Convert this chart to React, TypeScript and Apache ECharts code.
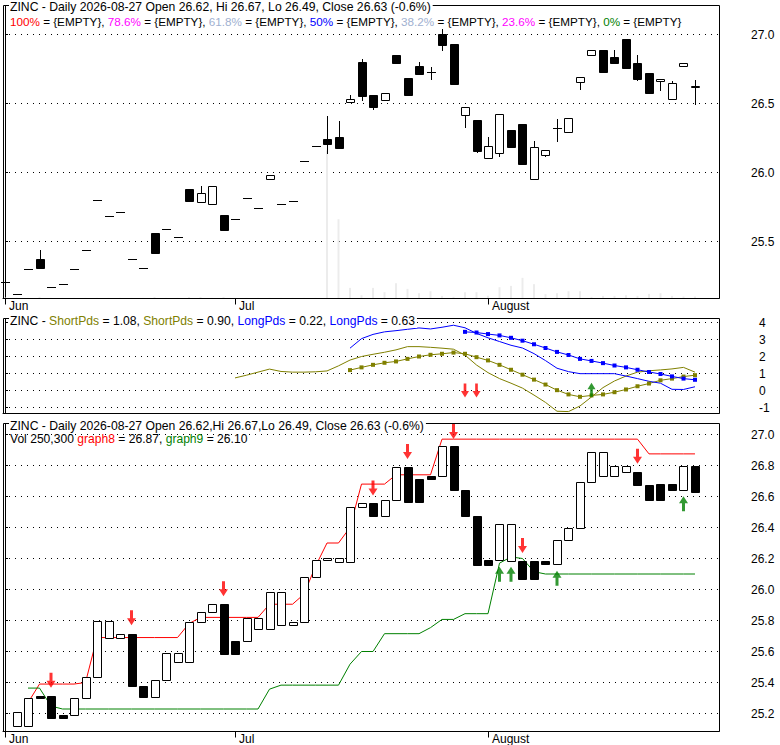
import React, { useEffect, useRef } from 'react';
import * as echarts from 'echarts';

// ---------- data (bar index 0..60) ----------
const opens = [25.21, 25.12, 25.30, 25.37, 25.17, 25.19, 25.30, 25.435, 25.80, 25.685, 25.715, 25.375, 25.305, 25.56, 25.59, 25.535, 25.88, 25.785, 25.775, 25.695, 25.665, 25.815, 25.745, 25.95, 25.77, 25.79, 26.08, 26.19, 26.24, 26.26, 26.51, 26.80, 26.565, 26.525, 26.855, 26.685, 26.77, 26.73, 27.005, 26.93, 26.42, 26.38, 26.105, 26.14, 26.305, 26.35, 25.955, 26.13, 26.32, 26.29, 26.655, 26.855, 26.89, 26.84, 26.97, 26.79, 26.72, 26.66, 26.535, 26.775, 26.62];
const highs = [25.21, 25.12, 25.30, 25.44, 25.17, 25.19, 25.30, 25.435, 25.80, 25.685, 25.715, 25.375, 25.305, 25.56, 25.59, 25.535, 25.88, 25.90, 25.905, 25.695, 25.665, 25.815, 25.745, 25.985, 25.77, 25.79, 26.08, 26.19, 26.41, 26.37, 26.56, 26.82, 26.565, 26.575, 26.855, 26.685, 26.80, 26.765, 27.04, 26.93, 26.475, 26.38, 26.26, 26.425, 26.305, 26.35, 26.23, 26.165, 26.39, 26.395, 26.695, 26.89, 26.89, 26.885, 26.97, 26.85, 26.72, 26.68, 26.66, 26.795, 26.67];
const lows = [25.21, 25.12, 25.30, 25.31, 25.17, 25.19, 25.30, 25.435, 25.80, 25.685, 25.715, 25.375, 25.305, 25.415, 25.59, 25.535, 25.79, 25.785, 25.775, 25.585, 25.665, 25.815, 25.745, 25.95, 25.77, 25.79, 26.08, 26.19, 26.135, 26.17, 26.51, 26.515, 26.45, 26.515, 26.79, 26.565, 26.715, 26.67, 26.88, 26.64, 26.32, 26.14, 26.105, 26.11, 26.185, 26.065, 25.955, 26.11, 26.22, 26.29, 26.60, 26.855, 26.73, 26.795, 26.76, 26.665, 26.575, 26.59, 26.535, 26.775, 26.49];
const closes = [25.21, 25.12, 25.30, 25.31, 25.17, 25.19, 25.30, 25.435, 25.80, 25.685, 25.715, 25.375, 25.305, 25.415, 25.59, 25.535, 25.79, 25.855, 25.905, 25.585, 25.665, 25.815, 25.745, 25.985, 25.77, 25.79, 26.08, 26.19, 26.205, 26.18, 26.53, 26.555, 26.475, 26.575, 26.79, 26.565, 26.715, 26.73, 26.925, 26.64, 26.475, 26.155, 26.19, 26.425, 26.185, 26.065, 26.185, 26.165, 26.32, 26.395, 26.695, 26.89, 26.73, 26.795, 26.76, 26.675, 26.575, 26.68, 26.645, 26.795, 26.63];
// volume in thousands of shares
const volumes = [120, 80, 80, 200, 80, 80, 80, 80, 80, 80, 80, 80, 80, 180, 80, 80, 180, 180, 80, 180, 80, 80, 80, 80, 80, 80, 80, 80, 18500, 9900, 1330, 410, 1330, 790, 1910, 1200, 660, 910, 330, 200, 790, 790, 330, 1410, 1580, 2580, 1790, 540, 660, 910, 910, 200, 330, 330, 410, 330, 580, 660, 330, 250, 250];
// lower panel box colour (1 = hollow/up, 0 = filled), index 0 unused
const boxUp = [null, 1, 1, 0, 0, 0, 1, 1, 1, 1, 1, 0, 0, 1, 1, 1, 1, 1, 1, 0, 0, 1, 1, 1, 1, 1, 1, 1, 1, 1, 1, 1, 0, 1, 1, 0, 0, 0, 1, 0, 0, 0, 0, 1, 1, 0, 0, 0, 1, 1, 1, 1, 1, 1, 1, 0, 0, 0, 0, 1, 0];

const monthTicks = [0, 20, 42];
const monthNames = ['Jun', 'Jul', 'August'];
const topTicks = [25.5, 26.0, 26.5, 27.0];
const midTicks = [-1, 0, 1, 2, 3, 4];
const botTicks = [25.2, 25.4, 25.6, 25.8, 26.0, 26.2, 26.4, 26.6, 26.8, 27.0];

const shortFastStart = 20;
const shortFast = [0.74, 0.90, 1.08, 1.26, 1.12, 1.08, 1.08, 1.10, 1.15, 1.45, 1.79, 2.00, 2.13, 2.25, 2.39, 2.58, 2.58, 2.54, 2.49, 2.43, 2.08, 1.50, 1.05, 0.70, 0.43, 0.14, -0.27, -0.70, -1.22, -1.24, -0.91, -0.38, 0.17, 0.56, 0.85, 1.08, 1.16, 1.21, 1.27, 1.36, 1.08];
const shortSlowStart = 30;
const shortSlow = [1.20, 1.36, 1.51, 1.63, 1.71, 1.86, 2.00, 2.10, 2.16, 2.23, 2.16, 1.96, 1.77, 1.51, 1.22, 0.93, 0.64, 0.35, 0.02, -0.23, -0.37, -0.29, -0.23, -0.10, 0.06, 0.25, 0.41, 0.60, 0.70, 0.82, 0.90];
const longFastStart = 30;
const longFast = [2.49, 3.05, 3.30, 3.45, 3.52, 3.60, 3.68, 3.62, 3.72, 3.84, 3.69, 3.36, 3.10, 2.88, 2.66, 2.50, 2.17, 1.76, 1.31, 1.11, 0.99, 0.99, 0.99, 0.99, 0.85, 0.70, 0.54, 0.43, 0.07, 0.06, 0.22];
const longSlowStart = 40;
const longSlow = [3.45, 3.41, 3.32, 3.24, 3.10, 2.93, 2.72, 2.50, 2.27, 2.09, 1.86, 1.74, 1.61, 1.47, 1.36, 1.22, 1.09, 0.97, 0.83, 0.70, 0.63];

const graph8Start = 2;
const graph8 = [25.27, 25.39, 25.39, 25.39, 25.39, 25.40, 25.69, 25.69, 25.69, 25.69, 25.69, 25.69, 25.69, 25.69, 25.78, 25.82, 25.82, 25.82, 25.82, 25.82, 25.82, 25.905, 25.905, 25.905, 25.97, 26.15, 26.30, 26.30, 26.40, 26.68, 26.68, 26.68, 26.74, 26.74, 26.74, 26.74, 26.97, 26.97, 26.97, 26.97, 26.97, 26.97, 26.97, 26.97, 26.97, 26.97, 26.97, 26.97, 26.97, 26.97, 26.97, 26.97, 26.97, 26.97, 26.875, 26.875, 26.875, 26.875, 26.875];
const graph9Start = 2;
const graph9 = [25.364, 25.364, 25.248, 25.229, 25.229, 25.229, 25.229, 25.229, 25.229, 25.229, 25.229, 25.229, 25.229, 25.229, 25.229, 25.229, 25.229, 25.229, 25.229, 25.229, 25.229, 25.357, 25.383, 25.383, 25.383, 25.383, 25.383, 25.383, 25.518, 25.60, 25.60, 25.715, 25.715, 25.715, 25.715, 25.754, 25.807, 25.807, 25.844, 25.844, 25.844, 26.17, 26.21, 26.20, 26.115, 26.10, 26.10, 26.10, 26.10, 26.10, 26.10, 26.10, 26.10, 26.10, 26.10, 26.10, 26.10, 26.10, 26.10];

const midSell = [[40, 0.0], [41, 0.0]];
const midBuy = [[51, 0.05]];
const botSell = [[4, 25.415], [11, 25.818], [19, 26.005], [32, 26.655], [35, 26.891], [39, 27.02], [45, 26.284], [55, 26.859]];
const botBuy = [[43, 26.098], [44, 26.098], [48, 26.073], [59, 26.554]];

// ---------- layout / style ----------
const FAMILY = '"Liberation Sans", Arial, sans-serif';
const font = (px: number) => `${px}px "Liberation Sans", Arial, sans-serif`;
const X_MIN = -0.174;
const X_MAX = 62.087;
const DOWN_ARROW = 'path://M3,0 L6,0 L6,8 L9,8 L4.5,15 L0,8 L3,8 Z';
const UP_ARROW = 'path://M4.5,0 L9,7 L6,7 L6,15 L3,15 L3,7 L0,7 Z';
const DOTS = { color: '#000', width: 1, type: [1, 5] as number[], cap: 'butt', opacity: 1 };
const PANELS = [
  { top: 5.5, height: 293 },
  { top: 318.5, height: 95 },
  { top: 423.5, height: 308 },
];
// value ranges chosen so that every grid line falls on a half pixel
const TOP_RANGE = [25.5 - 57 / 138, 27.0 + 29 / 138];
const MID_RANGE = [4 + 4 / 17 - 95 / 17, 4 + 4 / 17];
const BOT_RANGE = [27.0 + 11 / 155 - 308 / 155, 27.0 + 11 / 155];

const toPts = (start: number, arr: number[]) => arr.map((v, k) => [start + k, v]);

function candleItem(params: any, api: any) {
  const i = api.value(0);
  const o = api.value(1), c = api.value(2), l = api.value(3), h = api.value(4);
  const pO = api.coord([i, o]);
  const pC = api.coord([i, c]);
  const pL = api.coord([i, l]);
  const pH = api.coord([i, h]);
  const cx = Math.round(pO[0]) + 0.5;
  const yTop = Math.round(Math.min(pO[1], pC[1])) + 0.5;
  const yBot = Math.round(Math.max(pO[1], pC[1])) + 0.5;
  const children: any[] = [];
  if (Math.abs(pH[1] - pL[1]) > 0.8) {
    children.push({ type: 'line', shape: { x1: cx, y1: Math.round(pH[1]), x2: cx, y2: Math.round(pL[1]) }, style: { stroke: '#000', lineWidth: 1 } });
  }
  if (yBot - yTop < 1) {
    children.push({ type: 'line', shape: { x1: cx - 4.5, y1: yTop, x2: cx + 4.5, y2: yTop }, style: { stroke: '#000', lineWidth: 1 } });
  } else {
    children.push({ type: 'rect', shape: { x: cx - 4, y: yTop, width: 8, height: yBot - yTop }, style: { fill: c >= o ? '#fff' : '#000', stroke: '#000', lineWidth: 1 } });
  }
  return { type: 'group', children };
}

function boxItem(params: any, api: any) {
  const i = api.value(0);
  const a = api.value(1), b = api.value(2), up = api.value(3);
  const pA = api.coord([i, a]);
  const pB = api.coord([i, b]);
  const cx = Math.round(pA[0]) + 0.5;
  const yTop = Math.round(Math.min(pA[1], pB[1])) + 0.5;
  let yBot = Math.round(Math.max(pA[1], pB[1])) + 0.5;
  if (yBot - yTop < 1) yBot = yTop + 1;
  return {
    type: 'rect',
    shape: { x: cx - 4, y: yTop, width: 8, height: yBot - yTop },
    style: { fill: up ? '#fff' : '#000', stroke: '#000', lineWidth: 1 },
  };
}

function xAxisFor(grid: number, labels: boolean) {
  return {
    type: 'value', gridIndex: grid, min: X_MIN, max: X_MAX, position: 'bottom',
    axisLine: { show: true, onZero: false, lineStyle: { color: '#000', width: 1 } },
    axisTick: labels
      ? { show: true, customValues: monthTicks, length: 6, inside: false, lineStyle: { color: '#000' } }
      : { show: false },
    axisLabel: labels
      ? {
          show: true, customValues: monthTicks, margin: 1, align: 'left', verticalAlign: 'top',
          padding: [0, 0, 0, 4], color: '#000', fontSize: 12, fontFamily: FAMILY,
          formatter: (v: number) => {
            const k = monthTicks.findIndex((t) => Math.abs(t - v) < 0.01);
            return k >= 0 ? monthNames[k] : '';
          },
        }
      : { show: false },
    splitLine: { show: false },
  };
}

function yAxisFor(grid: number, range: number[], ticks: number[], margin: number, digits: number) {
  return {
    type: 'value', gridIndex: grid, position: 'right', min: range[0], max: range[1],
    axisLine: { show: true, lineStyle: { color: '#000', width: 1 } },
    axisTick: { show: true, customValues: ticks, length: 3, inside: false, lineStyle: { color: '#000' } },
    axisLabel: {
      show: true, customValues: ticks, margin, color: '#000', fontSize: 12, fontFamily: FAMILY,
      formatter: (v: number) => v.toFixed(digits),
    },
    splitLine: { show: true, lineStyle: DOTS },
  };
}

const gridBase = { show: false, left: 3, width: 716, containLabel: false, outerBoundsMode: 'none' };

function textEl(x: number, y: number, text: string, px: number, bg: boolean, rich?: any) {
  const style: any = {
    text, font: font(px), fill: '#000', align: 'left', verticalAlign: 'middle',
    textAlign: 'left', textVerticalAlign: 'middle',
  };
  if (bg) {
    style.backgroundColor = '#fff';
    style.padding = [1, 2, 1, 1];
  }
  if (rich) {
    const r: any = {};
    Object.keys(rich).forEach((k) => { r[k] = { fill: rich[k], font: font(px) }; });
    style.rich = r;
  }
  return { type: 'text', x, y, z: 100, silent: true, style };
}

function buildOption(): any {
  const candles = opens.map((o, i) => [i, o, closes[i], lows[i], highs[i]]);
  const boxes = closes.slice(1).map((c, k) => [k + 1, closes[k], c, boxUp[k + 1]]);
  const frames = PANELS.map((p) => ({
    type: 'rect', z: 50, silent: true,
    shape: { x: 3.5, y: p.top, width: 716, height: p.height },
    style: { fill: 'none', stroke: '#000', lineWidth: 1 },
  }));
  return {
    animation: false,
    backgroundColor: '#fff',
    textStyle: { fontFamily: FAMILY, fontSize: 12, color: '#000' },
    grid: PANELS.map((p) => ({ ...gridBase, top: p.top, height: p.height })),
    xAxis: [xAxisFor(0, true), xAxisFor(1, false), xAxisFor(2, true)],
    yAxis: [
      yAxisFor(0, TOP_RANGE, topTicks, 32, 1),
      { type: 'value', gridIndex: 0, position: 'left', min: 0, max: 36600, show: false, splitLine: { show: false } },
      yAxisFor(1, MID_RANGE, midTicks, 40, 0),
      yAxisFor(2, BOT_RANGE, botTicks, 32, 1),
    ],
    series: [
      {
        type: 'bar', name: 'Vol', xAxisIndex: 0, yAxisIndex: 1, barWidth: 2, silent: true, z: 1,
        itemStyle: { color: '#ececec' }, data: volumes.map((v, i) => [i, v]),
      },
      {
        type: 'custom', name: 'ZINC', xAxisIndex: 0, yAxisIndex: 0, z: 3, silent: true,
        renderItem: candleItem, encode: { x: 0, y: [1, 2, 3, 4] }, data: candles,
      },
      {
        type: 'line', name: 'ShortPds', xAxisIndex: 1, yAxisIndex: 2, z: 2, symbol: 'none', silent: true,
        lineStyle: { color: '#808000', width: 1 }, data: toPts(shortFastStart, shortFast),
      },
      {
        type: 'line', name: 'ShortPds2', xAxisIndex: 1, yAxisIndex: 2, z: 2, symbol: 'rect', symbolSize: 4, showSymbol: true, silent: true,
        itemStyle: { color: '#808000' }, lineStyle: { color: '#808000', width: 1 }, data: toPts(shortSlowStart, shortSlow),
      },
      {
        type: 'line', name: 'LongPds', xAxisIndex: 1, yAxisIndex: 2, z: 2, symbol: 'none', silent: true,
        lineStyle: { color: '#0000ff', width: 1 }, data: toPts(longFastStart, longFast),
      },
      {
        type: 'line', name: 'LongPds2', xAxisIndex: 1, yAxisIndex: 2, z: 2, symbol: 'rect', symbolSize: 4, showSymbol: true, silent: true,
        itemStyle: { color: '#0000ff' }, lineStyle: { color: '#0000ff', width: 1 }, data: toPts(longSlowStart, longSlow),
      },
      {
        type: 'scatter', xAxisIndex: 1, yAxisIndex: 2, z: 5, symbol: DOWN_ARROW, symbolSize: [8, 14], silent: true,
        itemStyle: { color: '#ff0000' }, data: midSell,
      },
      {
        type: 'scatter', xAxisIndex: 1, yAxisIndex: 2, z: 5, symbol: UP_ARROW, symbolSize: [8, 14], silent: true,
        itemStyle: { color: '#008000' }, data: midBuy,
      },
      {
        type: 'line', name: 'graph8', xAxisIndex: 2, yAxisIndex: 3, z: 2, symbol: 'none', silent: true,
        lineStyle: { color: '#ff0000', width: 1 }, data: toPts(graph8Start, graph8),
      },
      {
        type: 'line', name: 'graph9', xAxisIndex: 2, yAxisIndex: 3, z: 2, symbol: 'none', silent: true,
        lineStyle: { color: '#008000', width: 1 }, data: toPts(graph9Start, graph9),
      },
      {
        type: 'custom', name: 'boxes', xAxisIndex: 2, yAxisIndex: 3, z: 3, silent: true,
        renderItem: boxItem, encode: { x: 0, y: [1, 2] }, data: boxes,
      },
      {
        type: 'scatter', xAxisIndex: 2, yAxisIndex: 3, z: 5, symbol: DOWN_ARROW, symbolSize: [9, 15], silent: true,
        itemStyle: { color: '#ff0000' }, data: botSell,
      },
      {
        type: 'scatter', xAxisIndex: 2, yAxisIndex: 3, z: 5, symbol: UP_ARROW, symbolSize: [9, 15], silent: true,
        itemStyle: { color: '#008000' }, data: botBuy,
      },
    ],
    graphic: [
      ...frames,
      textEl(9, 6.5, 'ZINC - Daily 2026-08-27 Open 26.62, Hi 26.67, Lo 26.49, Close 26.63 (-0.6%)', 12.2, true),
      textEl(10, 21, '{r|100%} = {EMPTY}, {m|78.6%} = {EMPTY}, {s|61.8%} = {EMPTY}, {b|50%} = {EMPTY}, {s|38.2%} = {EMPTY}, {m|23.6%} = {EMPTY}, {g|0%} = {EMPTY}', 11.7, false,
        { r: '#ff0000', m: '#ff00ff', s: '#a0b0d0', b: '#0000ff', g: '#008000' }),
      textEl(9, 321, 'ZINC - {o|ShortPds} = 1.08, {o|ShortPds} = 0.90, {b|LongPds} = 0.22, {b|LongPds} = 0.63', 12.15, true,
        { o: '#808000', b: '#0000ff' }),
      textEl(9, 425.5, 'ZINC - Daily 2026-08-27 Open 26.62,Hi 26.67,Lo 26.49, Close 26.63 (-0.6%)', 12.2, true),
      textEl(10, 439, 'Vol 250,300 {r|graph8} = 26.87, {g|graph9} = 26.10', 12.1, false,
        { r: '#ff0000', g: '#008000' }),
    ],
  };
}

export default function App() {
  const ref = useRef<HTMLDivElement>(null);
  useEffect(() => {
    if (!ref.current) return;
    const chart = echarts.init(ref.current, undefined, { renderer: 'svg' });
    chart.setOption(buildOption());
    return () => {
      chart.dispose();
    };
  }, []);
  return (
    <div
      ref={ref}
      style={{ position: 'absolute', left: 0, top: 0, width: 780, height: 745, background: '#fff' }}
    />
  );
}
